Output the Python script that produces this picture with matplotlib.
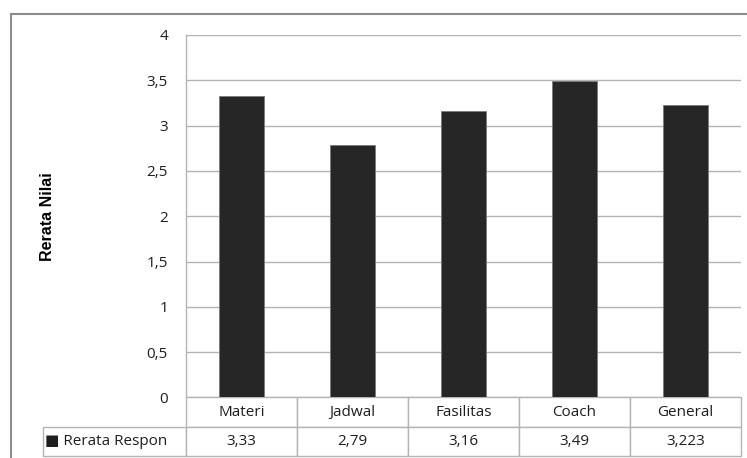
import matplotlib
matplotlib.use("Agg")
import matplotlib.pyplot as plt
from matplotlib.lines import Line2D
import numpy as np

categories = ["Materi", "Jadwal", "Fasilitas", "Coach", "General"]
series_name = "Rerata Respon"
values = [3.33, 2.79, 3.16, 3.49, 3.223]
yticks = [0, 0.5, 1, 1.5, 2, 2.5, 3, 3.5, 4]
y_label = "Rerata Nilai"

TEXT = "#1e1e1e"
GRID = "#b4b4b4"
BAR = "#262626"
FS = 11

def comma(v):
    s = ("%g" % v)
    return s.replace(".", ",")

plt.rcParams["font.family"] = ["Open Sans", "DejaVu Sans"]

W, H = 747, 458
fig = plt.figure(figsize=(W / 100, H / 100), dpi=100)

# plot area in pixel coordinates
px_l, px_r, px_t, px_b = 186, 741, 35, 397.4
ax = fig.add_axes([px_l / W, 1 - px_b / H, (px_r - px_l) / W, (px_b - px_t) / H])

x = np.arange(len(categories))
ax.bar(x, values, width=0.4, color=BAR, edgecolor="#7a7a7a", linewidth=0.6, zorder=3)
ax.set_xlim(-0.5, len(categories) - 0.5)
ax.set_ylim(0, 4)
ax.set_yticks(yticks)
ax.set_yticklabels([comma(t) for t in yticks], fontsize=FS, color=TEXT)
ax.set_xticks([])
ax.tick_params(axis="y", length=0, pad=13)
ax.yaxis.grid(True, color=GRID, linewidth=1.0)
ax.set_axisbelow(True)
for s in ["top", "right", "bottom"]:
    ax.spines[s].set_visible(False)
ax.spines["left"].set_color(GRID)
ax.spines["left"].set_linewidth(1.0)

# data table under the plot
row_label_w = 143 / 111.0
cell_text = [[""] + categories,
             ["\u25a0 " + series_name] + [comma(v) for v in values]]
tb_h = (456 - px_b) / (px_b - px_t)
tb_left = -(px_l - 43) / (px_r - px_l)
tbl = ax.table(cellText=cell_text,
               colWidths=[row_label_w] + [1.0] * len(categories),
               cellLoc="center",
               bbox=[tb_left, -tb_h, 1 - tb_left, tb_h])
tbl.auto_set_font_size(False)
for (r, c), cell in tbl.get_celld().items():
    cell.set_edgecolor(GRID)
    cell.set_linewidth(1.0)
    cell.get_text().set_fontsize(FS)
    cell.get_text().set_color(TEXT)
    cell.get_text().set_fontfamily(["Open Sans", "DejaVu Sans"])
    if r == 0 and c == 0:
        cell.visible_edges = ""
    if r == 1 and c == 0:
        cell.get_text().set_horizontalalignment("left")
        cell.PAD = 0.015

fig.text(47 / W, 1 - 217 / H, y_label, rotation=90, ha="center", va="center",
         fontsize=11.5, fontweight="bold", family="Liberation Sans", color="#000000")

# outer chart frame (left and top edges)
fx0, fy0 = 11 / W, 1 - 14 / H
fig.add_artist(Line2D([fx0, fx0], [0, fy0], transform=fig.transFigure,
                      color="#8c8c8c", linewidth=1.5))
fig.add_artist(Line2D([fx0, 1], [fy0, fy0], transform=fig.transFigure,
                      color="#8c8c8c", linewidth=1.5))

fig.savefig("out.png", dpi=100)
